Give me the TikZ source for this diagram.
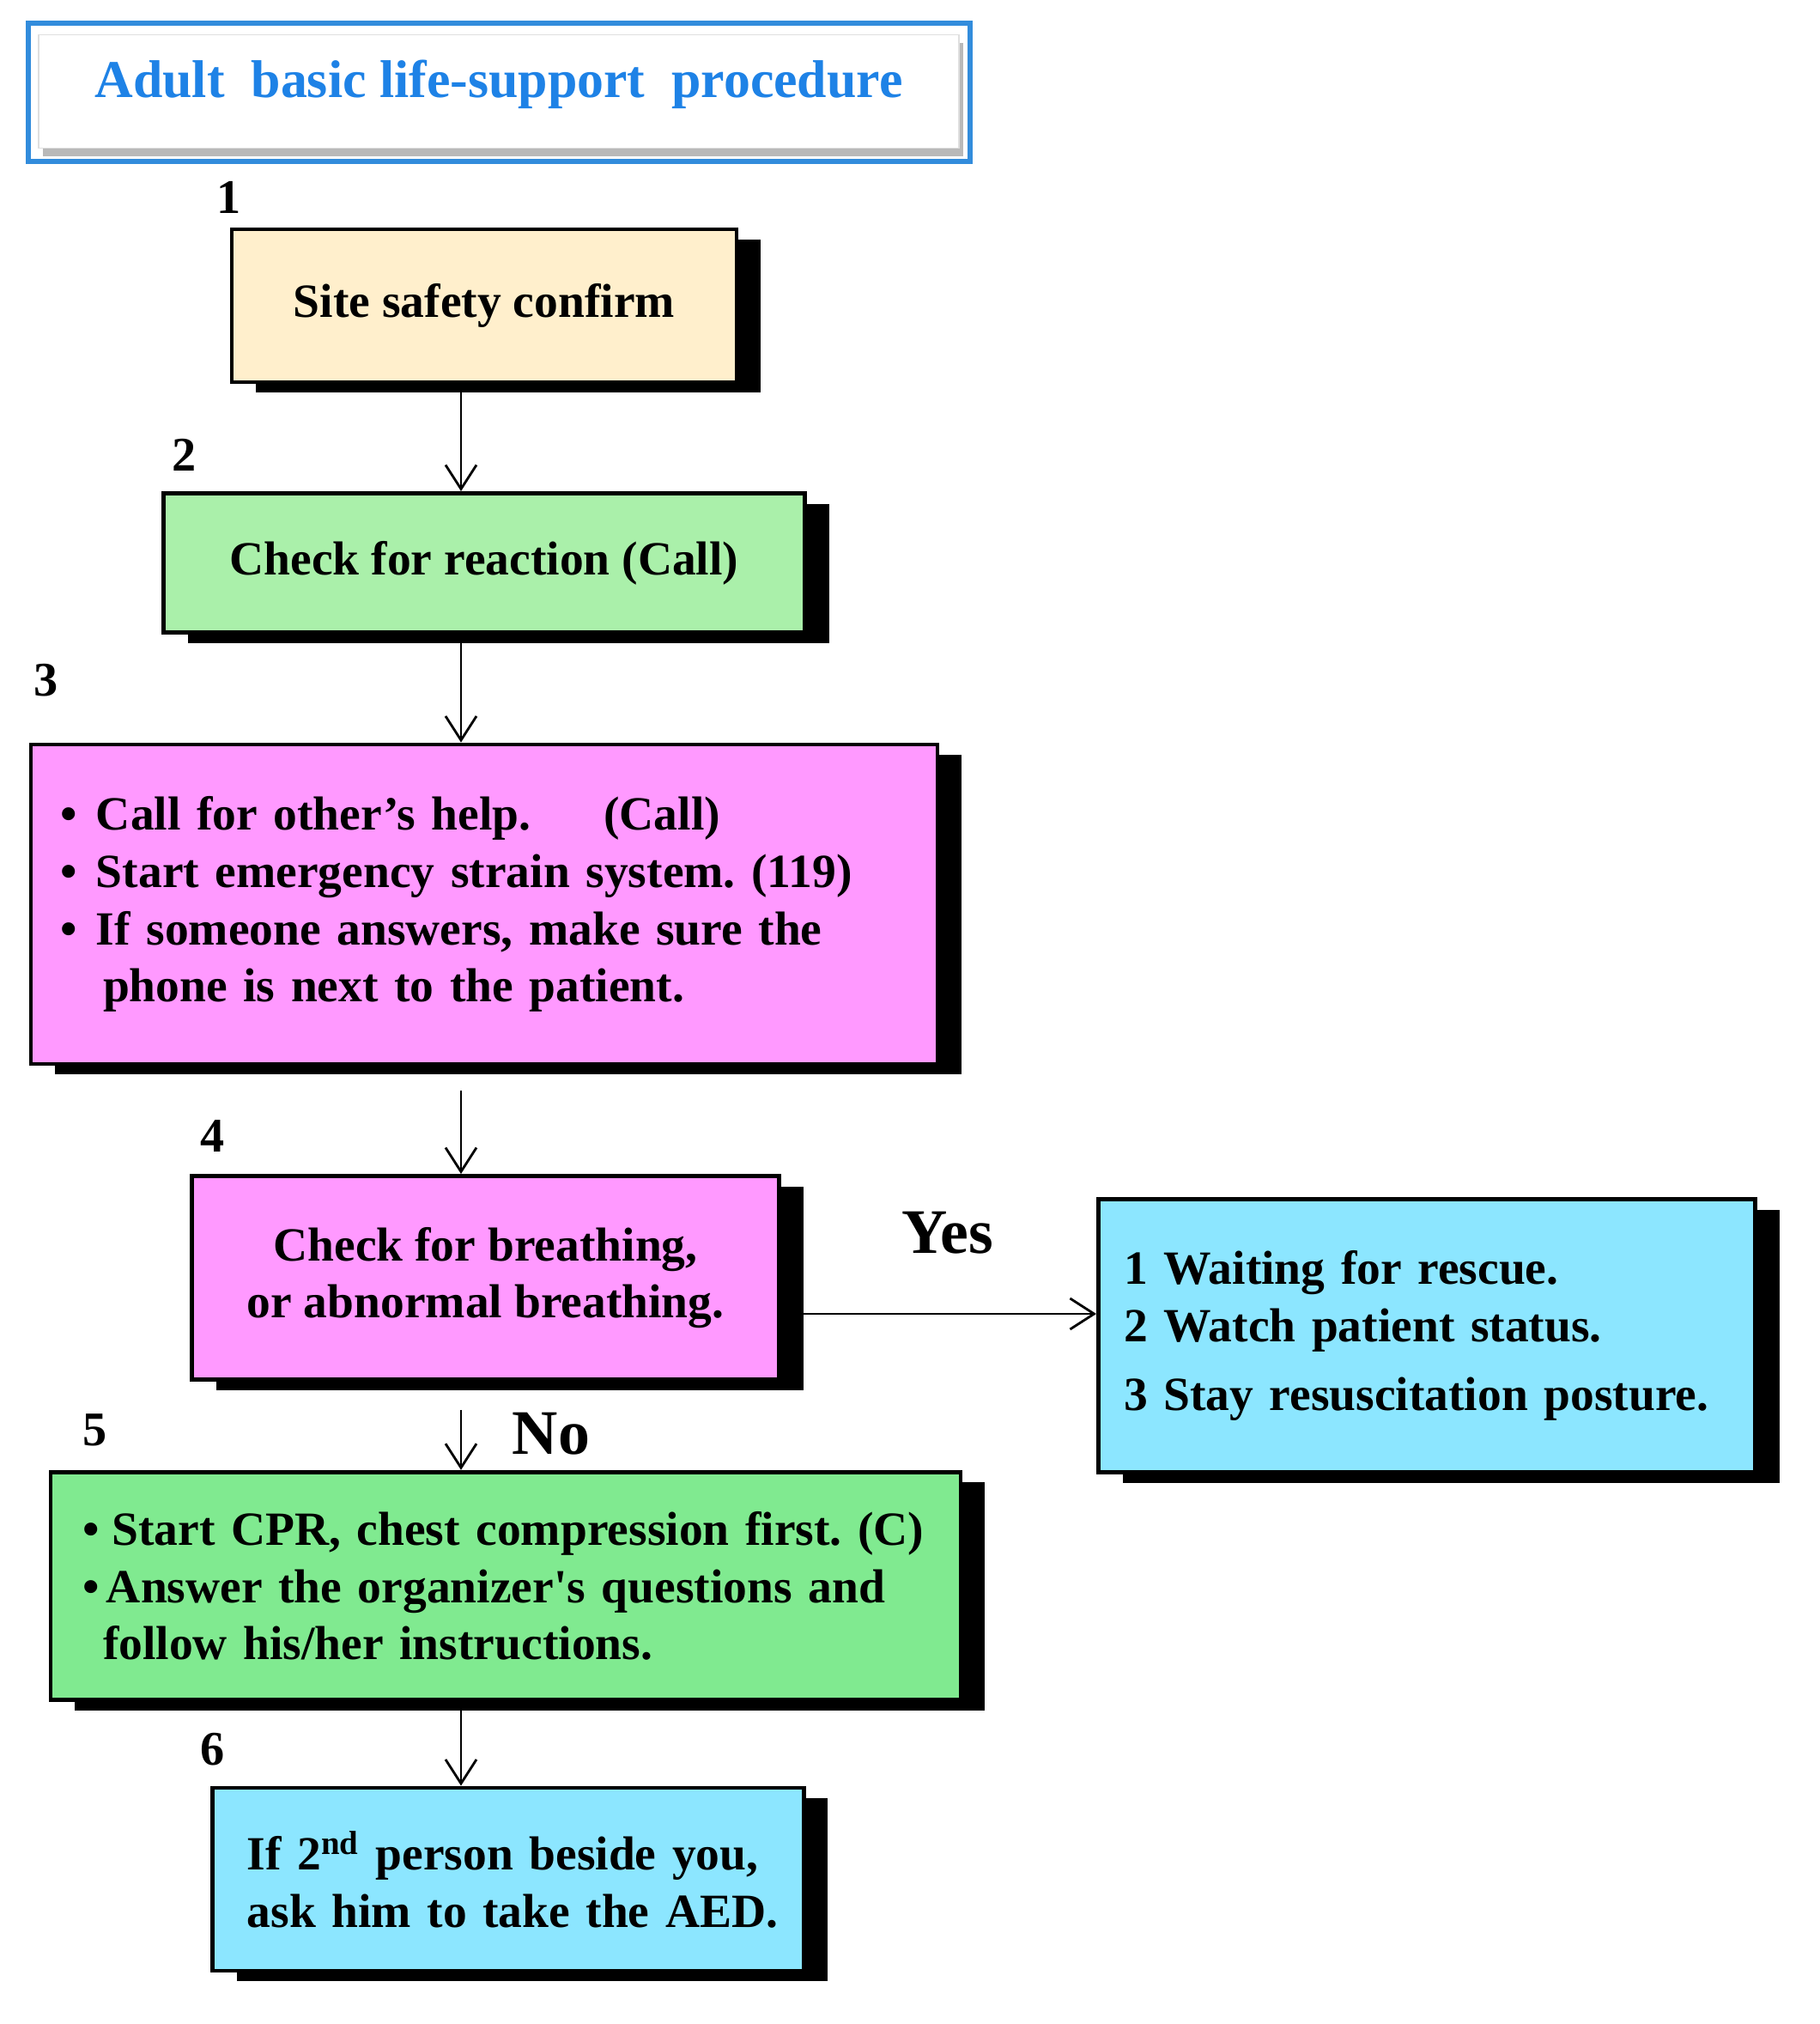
\documentclass[tikz,border=0pt]{standalone}
\usepackage{fontspec}
\setmainfont{Liberation Serif}
\usetikzlibrary{arrows.meta}
\usetikzlibrary{positioning}
\usetikzlibrary{shadows}

\definecolor{creamfill}{RGB}{255,239,204}
\definecolor{palegreen}{RGB}{170,240,170}
\definecolor{pinkfill}{RGB}{255,153,255}
\definecolor{cyanfill}{RGB}{140,230,255}
\definecolor{greenfill}{RGB}{128,234,144}
\definecolor{titleblue}{RGB}{30,130,230}
\definecolor{frameblue}{RGB}{50,140,220}

\tikzset{
    stepbox/.style={
        rectangle, draw=black, line width=1.4pt,
        font=\fontsize{15.8}{19}\selectfont\bfseries\frenchspacing,
        drop shadow={shadow xshift=0.28cm, shadow yshift=-0.12cm, fill=black, opacity=1},
    },
    steplabel/.style={font=\fontsize{16}{19}\selectfont\bfseries, inner sep=0pt},
    answer/.style={font=\fontsize{21}{24}\selectfont\bfseries, inner sep=0pt},
    flow/.style={draw=black, line width=0.8pt, -{Straight Barb[length=2.8mm, width=3.6mm]}},
}
\newcommand{\bulitem}[1]{\makebox[#1][l]{\textbullet}}

\begin{document}
\begin{tikzpicture}
    \useasboundingbox (0,0) rectangle (21.2,-23.57);

    % title
    \node (titleframe) at(5.815,-1.075) [
        rectangle, draw=frameblue, line width=1.6pt,
        minimum width=10.97cm, minimum height=1.61cm,
    ] {};
    \node (titlebar) at(5.81,-1.065) [
        rectangle, fill=white, draw=gray!25, thin,
        minimum width=10.72cm, minimum height=1.32cm,
        drop shadow={shadow xshift=0.05cm, shadow yshift=-0.09cm, fill=gray!55, opacity=1},
        text=titleblue, font=\fontsize{17.6}{20}\selectfont\bfseries,
        text depth=0.3cm,
    ] {Adult\ \ basic life-support\ \ procedure};

    % steps
    \coordinate (spine) at(5.37,0);
    \coordinate (yesrow) at(0,-15.30);

    \node (site) at(5.64,-3.56) [
        stepbox, fill=creamfill,
        minimum width=5.88cm, minimum height=1.78cm,
    ] {Site safety confirm};
    \node (reaction) at(5.64,-6.555) [
        stepbox, fill=palegreen,
        minimum width=7.47cm, minimum height=1.62cm,
    ] {Check for reaction (Call)};
    \node (helpcall) at(5.64,-10.53) [
        stepbox, fill=pinkfill,
        minimum width=10.56cm, minimum height=3.72cm,
        text width=9.88cm, inner xsep=0.34cm, align=left,
    ] {\bulitem{0.42cm}Call for other's help.\hspace{0.85cm}(Call)\\
       \mbox{\bulitem{0.42cm}Start emergency strain system. (119)}\\
       \bulitem{0.42cm}If someone answers, make sure the\\
       \hspace{0.5cm}phone is next to the patient.};
    \node (breathing) at(5.655,-14.88) [
        stepbox, fill=pinkfill,
        minimum width=6.84cm, minimum height=2.37cm, align=center,
    ] {Check for breathing,\\or abnormal breathing.};
    \node (waiting) at(16.62,-15.555) [
        stepbox, fill=cyanfill,
        minimum width=7.65cm, minimum height=3.18cm,
        text width=7.06cm, inner xsep=0.295cm, align=left,
    ] {1 Waiting for rescue.\\2 Watch patient status.\\[0.13cm]\mbox{3 Stay resuscitation posture.}};
    \node (cpr) at(5.89,-18.47) [
        stepbox, fill=greenfill,
        minimum width=10.6cm, minimum height=2.655cm,
        text width=9.86cm, inner xsep=0.37cm, align=left,
    ] {\mbox{\bulitem{0.345cm}Start CPR, chest compression first. (C)}\\
       \bulitem{0.28cm}Answer the organizer\textquotesingle s questions and\\
       \hspace{0.24cm}follow his/her instructions.};
    \node (aed) at(5.92,-21.885) [
        stepbox, fill=cyanfill,
        minimum width=6.885cm, minimum height=2.13cm,
        text width=6.085cm, inner xsep=0.4cm, align=left,
    ] {\mbox{If 2\textsuperscript{nd} person beside you,}\\\mbox{ask him to take the AED.}};

    % step numbers
    \node (num1) at(2.67,-2.30) [steplabel] {1};
    \node (num2) at(2.145,-5.30) [steplabel] {2};
    \node (num3) at(0.54,-7.92) [steplabel] {3};
    \node (num4) at(2.48,-13.23) [steplabel] {4};
    \node (num5) at(1.11,-16.65) [steplabel] {5};
    \node (num6) at(2.48,-20.37) [steplabel] {6};

    \node (yes) at(11.04,-14.355) [answer] {Yes};
    \node (no) at(6.42,-16.695) [answer] {No};

    % connectors
    \draw[flow] (site.south -| spine) -- (reaction.north -| spine);
    \draw[flow] (reaction.south -| spine) -- (helpcall.north -| spine);
    \draw[flow, shorten <=2.85mm] (helpcall.south -| spine) -- (breathing.north -| spine);
    \draw[flow, shorten <=3.3mm] (breathing.south -| spine) -- (cpr.north -| spine);
    \draw[flow] (cpr.south -| spine) -- (aed.north -| spine);
    \draw[flow] (breathing.east |- yesrow) -- (waiting.west |- yesrow);
\end{tikzpicture}
\end{document}
